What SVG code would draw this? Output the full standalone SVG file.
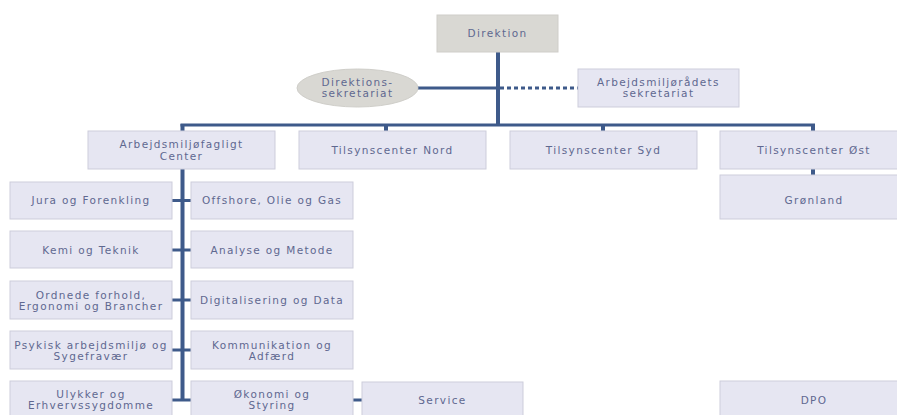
<svg xmlns="http://www.w3.org/2000/svg" width="897" height="415" viewBox="0 0 897 415">
<style>
.box{fill:#E6E6F2;stroke:#CDCDDB;stroke-width:1}
.gray{fill:#D9D8D3;stroke:#CFCEC9;stroke-width:1}
text{font-family:"DejaVu Sans",sans-serif;font-size:10.5px;letter-spacing:1.35px;fill:#5F6890;text-anchor:middle}
.ln{stroke:#3E5A8A;fill:none}
</style>
<rect width="897" height="415" fill="#ffffff"/>
<g id="connectors">
<line class="ln" x1="498" y1="52" x2="498" y2="126" stroke-width="4"/>
<line class="ln" x1="418" y1="88" x2="498" y2="88" stroke-width="3"/>
<line class="ln" x1="500" y1="88" x2="578" y2="88" stroke-width="3" stroke-dasharray="4,3"/>
<line class="ln" x1="180.5" y1="125" x2="815" y2="125" stroke-width="3"/>
<line class="ln" x1="182.5" y1="124" x2="182.5" y2="131" stroke-width="4"/>
<line class="ln" x1="386" y1="124" x2="386" y2="131" stroke-width="4"/>
<line class="ln" x1="603" y1="124" x2="603" y2="131" stroke-width="4"/>
<line class="ln" x1="813" y1="124" x2="813" y2="131" stroke-width="4"/>
<line class="ln" x1="813" y1="169" x2="813" y2="175" stroke-width="4"/>
<line class="ln" x1="182.5" y1="169" x2="182.5" y2="400" stroke-width="4"/>
<line class="ln" x1="172" y1="200.5" x2="191" y2="200.5" stroke-width="3"/>
<line class="ln" x1="172" y1="250" x2="191" y2="250" stroke-width="3"/>
<line class="ln" x1="172" y1="300" x2="191" y2="300" stroke-width="3"/>
<line class="ln" x1="172" y1="350" x2="191" y2="350" stroke-width="3"/>
<line class="ln" x1="172" y1="400" x2="191" y2="400" stroke-width="3"/>
<line class="ln" x1="353" y1="400" x2="362" y2="400" stroke-width="3"/>
</g>
<g id="direktion"><rect class="gray" x="437" y="15" width="121" height="37"/><text x="497.5" y="37">Direktion</text></g>
<g id="direktionssekretariat"><ellipse class="gray" cx="357.5" cy="88" rx="60.5" ry="19"/><text x="357.5" y="86">Direktions-</text><text x="357.5" y="97">sekretariat</text></g>
<g id="amr-sekretariat"><rect class="box" x="578" y="69" width="161" height="38"/><text x="658.5" y="86">Arbejdsmiljørådets</text><text x="658.5" y="97">sekretariat</text></g>
<g id="amc"><rect class="box" x="88" y="131" width="187" height="38"/><text x="181.5" y="148">Arbejdsmiljøfagligt</text><text x="181.5" y="159.5">Center</text></g>
<g id="nord"><rect class="box" x="299" y="131" width="187" height="38"/><text x="392.5" y="154">Tilsynscenter Nord</text></g>
<g id="syd"><rect class="box" x="510" y="131" width="187" height="38"/><text x="603.5" y="154">Tilsynscenter Syd</text></g>
<g id="oest"><rect class="box" x="720" y="131" width="187" height="38"/><text x="814" y="154">Tilsynscenter Øst</text></g>
<g id="groenland"><rect class="box" x="720" y="175" width="187" height="44"/><text x="814" y="204">Grønland</text></g>
<g id="jura"><rect class="box" x="10" y="182" width="162" height="37"/><text x="91" y="204">Jura og Forenkling</text></g>
<g id="offshore"><rect class="box" x="191" y="182" width="162" height="37"/><text x="272" y="204">Offshore, Olie og Gas</text></g>
<g id="kemi"><rect class="box" x="10" y="231" width="162" height="37"/><text x="91" y="253.5">Kemi og Teknik</text></g>
<g id="analyse"><rect class="box" x="191" y="231" width="162" height="37"/><text x="272" y="253.5">Analyse og Metode</text></g>
<g id="ordnede"><rect class="box" x="10" y="281" width="162" height="38"/><text x="91" y="298.5">Ordnede forhold,</text><text x="91" y="309.5">Ergonomi og Brancher</text></g>
<g id="digital"><rect class="box" x="191" y="281" width="162" height="38"/><text x="272" y="304">Digitalisering og Data</text></g>
<g id="psykisk"><rect class="box" x="10" y="331" width="162" height="38"/><text x="91" y="348.5">Psykisk arbejdsmiljø og</text><text x="91" y="359.5">Sygefravær</text></g>
<g id="kommunikation"><rect class="box" x="191" y="331" width="162" height="38"/><text x="272" y="348.5">Kommunikation og</text><text x="272" y="359.5">Adfærd</text></g>
<g id="ulykker"><rect class="box" x="10" y="381" width="162" height="38"/><text x="91" y="398">Ulykker og</text><text x="91" y="409">Erhvervssygdomme</text></g>
<g id="oekonomi"><rect class="box" x="191" y="381" width="162" height="38"/><text x="272" y="398">Økonomi og</text><text x="272" y="409">Styring</text></g>
<g id="service"><rect class="box" x="362" y="382" width="161" height="37"/><text x="442.5" y="404">Service</text></g>
<g id="dpo"><rect class="box" x="720" y="381" width="187" height="38"/><text x="814" y="404">DPO</text></g>
</svg>
